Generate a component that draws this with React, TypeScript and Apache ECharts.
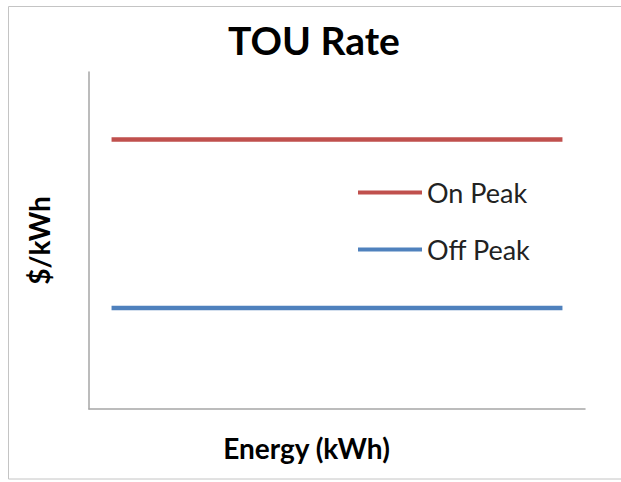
import React, { useEffect, useRef } from "react";
import * as echarts from "echarts";

const categories = ["1", "2", "3", "4", "5", "6", "7", "8", "9", "10", "11"];
const onPeak = [8, 8, 8, 8, 8, 8, 8, 8, 8, 8, 8];
const offPeak = [3, 3, 3, 3, 3, 3, 3, 3, 3, 3, 3];
const seriesNames = ["On Peak", "Off Peak"];
const titleText = "TOU Rate";
const xName = "Energy (kWh)";
const yName = "$/kWh";

const FONT = "Lato, 'Open Sans', sans-serif";

export default function App() {
  const ref = useRef<HTMLDivElement>(null);
  useEffect(() => {
    if (!ref.current) return;
    const chart = echarts.init(ref.current, null, { renderer: "svg" });
    chart.setOption({
      animation: false,
      backgroundColor: "#ffffff",
      graphic: [
        {
          type: "rect",
          shape: { x: 8.5, y: 6.5, width: 640, height: 472.5 },
          style: { fill: "none", stroke: "#c4c4c4", lineWidth: 1 },
          silent: true,
        },
      ],
      title: {
        text: titleText,
        left: 223,
        top: 15,
        textStyle: { fontFamily: FONT, fontWeight: "bold", fontSize: 39, color: "#000" },
      },
      grid: { left: 89, top: 72, right: 36, bottom: 73 },
      legend: {
        orient: "vertical",
        left: 353,
        top: 174,
        icon: "rect",
        itemWidth: 64,
        itemHeight: 4,
        itemGap: 30,
        textStyle: { fontFamily: FONT, fontSize: 27, color: "#222" },
        data: seriesNames,
      },
      xAxis: {
        type: "category",
        data: categories,
        boundaryGap: true,
        name: xName,
        nameLocation: "middle",
        nameGap: 25,
        nameTextStyle: {
          fontFamily: FONT,
          fontWeight: "bold",
          fontSize: 28,
          color: "#000",
          padding: [0, 61, 0, 0],
        },
        axisLine: { show: true, lineStyle: { color: "#a6a6a6", width: 1.5 } },
        axisTick: { show: false },
        axisLabel: { show: false },
        splitLine: { show: false },
      },
      yAxis: {
        type: "value",
        min: 0,
        max: 10,
        name: yName,
        nameLocation: "middle",
        nameGap: 36,
        nameRotate: 90,
        nameTextStyle: {
          fontFamily: FONT,
          fontWeight: "bold",
          fontSize: 28,
          color: "#000",
        },
        axisLine: { show: true, lineStyle: { color: "#a6a6a6", width: 1.5 } },
        axisTick: { show: false },
        axisLabel: { show: false },
        splitLine: { show: false },
      },
      series: [
        {
          name: seriesNames[0],
          type: "line",
          data: onPeak,
          symbol: "none",
          lineStyle: { color: "#c0504d", width: 4.5 },
          itemStyle: { color: "#c0504d" },
        },
        {
          name: seriesNames[1],
          type: "line",
          data: offPeak,
          symbol: "none",
          lineStyle: { color: "#4f81bd", width: 4.5 },
          itemStyle: { color: "#4f81bd" },
        },
      ],
    });
    return () => chart.dispose();
  }, []);
  return (
    <div
      ref={ref}
      style={{ position: "fixed", left: 0, top: 0, width: 621, height: 482 }}
    />
  );
}
